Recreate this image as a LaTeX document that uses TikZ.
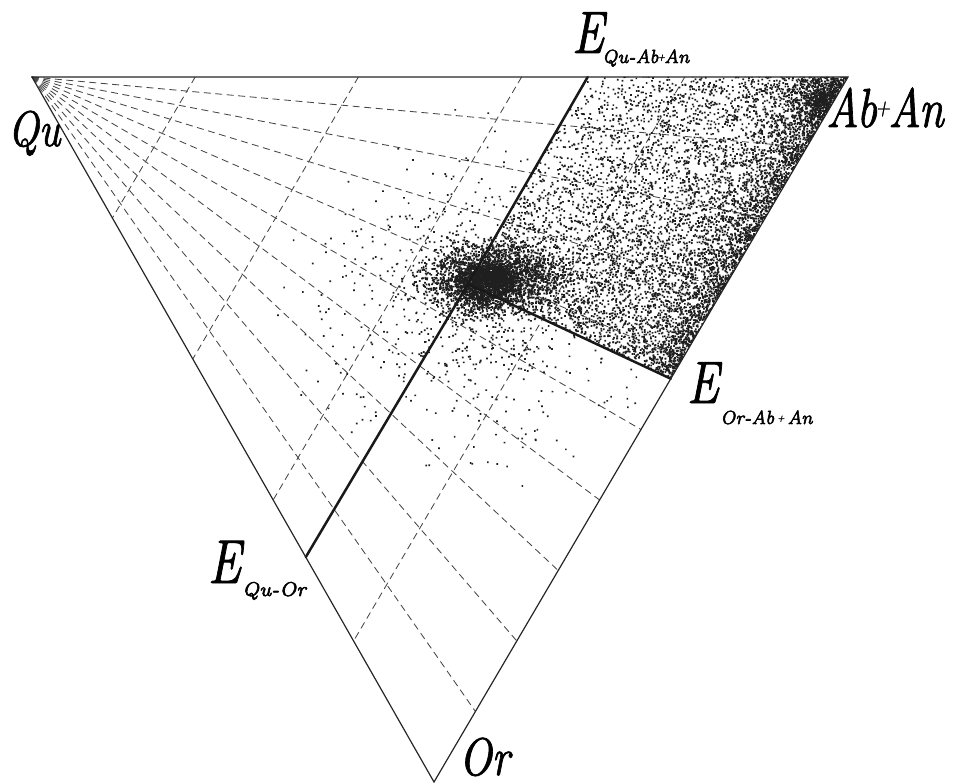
\documentclass[tikz,border=0pt]{standalone}
\usepackage{fontspec}
\newfontfamily\labfont[FakeBold=1.5]{lmroman10-italic.otf}
\newfontfamily\subfont[FakeBold=3]{lmroman7-italic.otf}
\usetikzlibrary{calc}
\makeatletter
\newcount\stipn
\gdef\stipbuf{}
\newcommand\stipflush{%
  \ifnum\stipn>0
    \pgfsys@invoke{q 0.12 g \stipbuf f Q}%
  \fi
  \gdef\stipbuf{}\global\stipn=0\relax}
\newcommand\stipdot[2]{%
  \pgfmathsetmacro\stipx{#1*0.99626}%
  \pgfmathsetmacro\stipy{-(#2)*0.99626}%
  \xdef\stipbuf{\stipbuf\stipx\space\stipy\space 1.7 1.7 re }%
  \global\advance\stipn by 1\relax
  \ifnum\stipn>150 \stipflush\fi}
\makeatother
\begin{document}
\begin{tikzpicture}[x=1pt,y=-1pt,
  edge/.style={line width=1.2pt, black!85},
  bound/.style={line width=2.5pt, black!90, line cap=round},
  guide/.style={line width=0.85pt, black!72, dash pattern=on 7pt off 4.5pt},
  lab/.style={inner sep=0pt, anchor=base west, font=\labfont},
  sub/.style={inner sep=0pt, anchor=base west, font=\subfont}]
\useasboundingbox (0,0) rectangle (954,784);
\pgfmathsetseed{4711}
% vertices and invariant points
\coordinate (Qu) at (32,77);
\coordinate (AbAn) at (848,77);
\coordinate (Or) at (434,782);
\coordinate (EQA) at ($(Qu)!0.681!(AbAn)$);
\coordinate (EQO) at ($(Qu)!0.681!(Or)$);
\coordinate (EOA) at ($(AbAn)!0.428!(Or)$);
\coordinate (E) at (468,284);
% guide lines
\foreach \k in {1,...,9}{
  \coordinate (f\k) at ($(AbAn)!\k/10!(Or)$);
  \draw[guide] (Qu) -- (f\k);
}
\foreach \k in {1,...,4}{
  \coordinate (pt\k) at ($(Qu)!\k/5!(AbAn)$);
  \coordinate (pb\k) at ($(Qu)!\k/5!(Or)$);
  \draw[guide] (pt\k) -- (pb\k);
}
% stippling of the Ab+An field
\begin{scope}
  \clip (EQA) -- (AbAn) -- (EOA) -- (E) -- cycle;
  \foreach \i in {1,...,5500}{
    \pgfmathsetmacro\myx{468+380*rnd}
    \pgfmathsetmacro\myy{77+302*sqrt(rnd)}
    \stipdot{\myx}{\myy}
  }
  \foreach \i in {1,...,5000}{
    \pgfmathsetmacro\myx{468+380*sqrt(rnd)}
    \pgfmathsetmacro\myy{77+302*rnd}
    \stipdot{\myx}{\myy}
  }
  \foreach \i in {1,...,1700}{
    \pgfmathsetmacro\myt{0.43*rnd}
    \pgfmathsetmacro\myd{55*rnd*rnd}
    \pgfmathsetmacro\myx{848-414*\myt-0.863*\myd}
    \pgfmathsetmacro\myy{77+705*\myt-0.506*\myd}
    \stipdot{\myx}{\myy}
  }
  \foreach \i in {1,...,1300}{
    \pgfmathsetmacro\myang{360*rnd}
    \pgfmathsetmacro\myrad{95*rnd*sqrt(rnd)}
    \pgfmathsetmacro\myx{822+\myrad*cos(\myang)}
    \pgfmathsetmacro\myy{100+\myrad*sin(\myang)}
    \stipdot{\myx}{\myy}
  }
  \stipflush
\end{scope}
% blob round the ternary point and sparse dots
\begin{scope}
  \clip (Qu) -- (AbAn) -- (Or) -- cycle;
  \fill[black!20, opacity=0.6] (474,281) circle[radius=9];
  \foreach \i in {1,...,2600}{
    \pgfmathsetmacro\myang{360*rnd}
    \pgfmathsetmacro\myrad{sqrt(rnd)*sqrt(rnd)}
    \pgfmathsetmacro\myx{492+85*\myrad*cos(\myang)}
    \pgfmathsetmacro\myy{279+45*\myrad*sin(\myang)}
    \stipdot{\myx}{\myy}
  }
  \foreach \i in {1,...,700}{
    \pgfmathsetmacro\myang{360*rnd}
    \pgfmathsetmacro\myrad{sqrt(rnd)}
    \pgfmathsetmacro\myx{484+30*\myrad*cos(\myang)}
    \pgfmathsetmacro\myy{282+18*\myrad*sin(\myang)}
    \stipdot{\myx}{\myy}
  }
  \foreach \i in {1,...,1200}{
    \pgfmathsetmacro\myang{360*rnd}
    \pgfmathsetmacro\myrad{230*rnd*sqrt(rnd)}
    \pgfmathsetmacro\myx{480+\myrad*cos(\myang)}
    \pgfmathsetmacro\myy{300+0.85*\myrad*sin(\myang)}
    \stipdot{\myx}{\myy}
  }
  \stipflush
\end{scope}
% boundary curves
\draw[bound] (EQA) -- (E);
\draw[bound] (E) -- (EQO);
\draw[bound] (E) -- (EOA);
% triangle
\draw[edge, line join=miter] (Qu) -- (AbAn) -- (Or) -- cycle;
% labels
\node[lab] (lQu) at (8,146) {\fontsize{50}{50}\selectfont\scalebox{0.8}[1]{Qu}};
\node[lab] (lAb) at (826,127) {\fontsize{55}{55}\selectfont\scalebox{0.8}[1]{Ab\kern-2pt\raisebox{12pt}{\fontsize{24}{24}\selectfont +}\kern-2pt An}};
\node[lab] (lOr) at (459,775) {\fontsize{53}{53}\selectfont\scalebox{0.8}[1]{Or}};
\node[lab] (lE1) at (572,53) {\fontsize{60}{60}\selectfont\scalebox{0.78}[1]{E}};
\node[sub] (lS1) at (602,63) {\fontsize{19}{19}\selectfont\scalebox{0.9}[1]{Qu-Ab\kern-1pt\raisebox{3pt}{\fontsize{9}{9}\selectfont +}\kern-1pt An}};
\node[lab] (lE2) at (687,403) {\fontsize{60}{60}\selectfont\scalebox{0.78}[1]{E}};
\node[sub] (lS2) at (720,424) {\fontsize{19}{19}\selectfont\scalebox{0.9}[1]{Or-Ab\,\raisebox{3pt}{\fontsize{9}{9}\selectfont +}\,An}};
\node[lab] (lE3) at (208,583) {\fontsize{62}{62}\selectfont\scalebox{0.78}[1]{E}};
\node[sub] (lS3) at (242,596) {\fontsize{20}{20}\selectfont\scalebox{0.95}[1]{Qu-Or}};
\end{tikzpicture}
\end{document}
